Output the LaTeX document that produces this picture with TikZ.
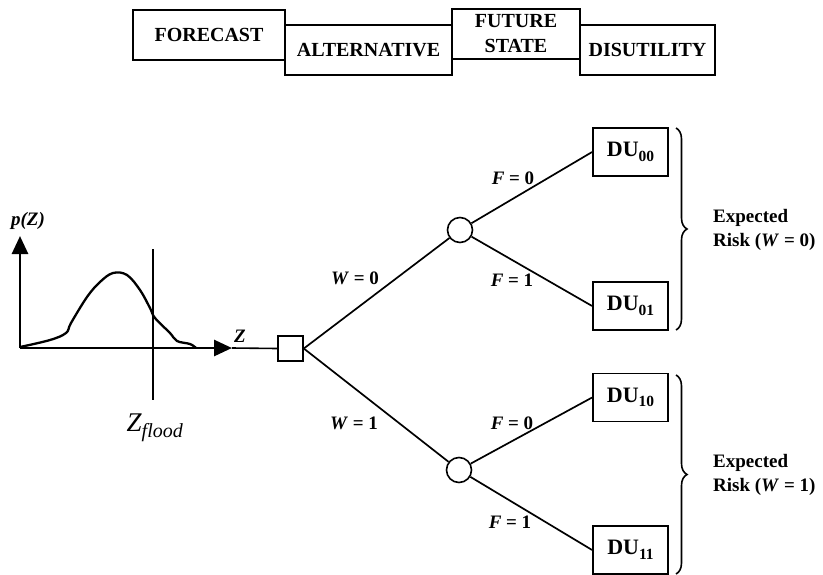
\documentclass[tikz,border=0pt]{standalone}
\usepackage{fontspec}
\setmainfont{Liberation Serif}
\usetikzlibrary{arrows.meta,decorations.pathreplacing}
\newcommand{\dusub}[1]{\raisebox{-4.5pt}{\fontsize{15.5}{16}\selectfont #1}}
\tikzset{
  topbox/.style={draw,line width=2pt,inner sep=0pt,font=\fontsize{20}{22}\selectfont\bfseries,align=center},
  dubox/.style={draw,line width=1.8pt,minimum width=75pt,minimum height=48pt,inner sep=0pt,font=\fontsize{22}{24}\selectfont\bfseries},
  chance/.style={draw,circle,line width=1.6pt,minimum size=25pt,inner sep=0pt},
  decision/.style={draw,rectangle,line width=1.6pt,minimum size=25pt,inner sep=0pt},
  branch/.style={line width=1.7pt},
  lbl/.style={font=\fontsize{19}{21}\selectfont\bfseries,inner sep=0pt},
  axis/.style={line width=2.8pt,-{Triangle[length=18pt,width=16pt]}},
  brace/.style={line width=1.6pt,decorate,decoration={brace,amplitude=11pt}},
  risk/.style={font=\fontsize{19}{24}\selectfont\bfseries,align=left,anchor=west,inner sep=0pt}
}
\begin{document}
\begin{tikzpicture}[x=1pt,y=-1pt]
\useasboundingbox (0,0) rectangle (823,574);
% top header boxes
\node[topbox,minimum width=152pt,minimum height=50pt] (fc) at (209,35) {FORECAST};
\node[topbox,minimum width=167pt,minimum height=50pt] (alt) at (368.5,50) {ALTERNATIVE};
\node[topbox,minimum width=128pt,minimum height=50pt] (fs) at (516,34) {FUTURE\\[3pt]STATE};
\node[topbox,minimum width=135pt,minimum height=50pt] (dis) at (647.5,50) {DISUTILITY};
% probability plot
\coordinate (o) at (20,348);
\coordinate (ytip) at (20,236);
\coordinate (xtip) at (232,348);
\draw[axis] (o) -- (ytip);
\draw[axis] (o) -- (xtip);
\coordinate (vtop) at (153,249);
\coordinate (vbot) at (153,400);
\draw[line width=1.5pt] (vtop) -- (vbot);
\draw[line width=2.3pt,line join=round] plot[smooth,tension=0.6] coordinates {(20,347) (50,340) (66,333) (71,323) (87,297) (100,282) (113,273) (127,275) (140,290) (150,308) (155,318) (170,333) (177,341) (190,344) (196,348)};
\node[lbl,font=\fontsize{19}{21}\selectfont\bfseries\itshape] (pz) at (28,221) {p(Z)};
\node[lbl,font=\fontsize{19}{21}\selectfont\bfseries\itshape] (zl) at (240,336) {Z};
\node[inner sep=0pt] (zf) at (155,428) {\fontsize{27}{29}\selectfont\itshape Z\textsubscript{\fontsize{20}{22}\selectfont flood}};
% decision tree
\node[decision] (sq) at (290.5,348.5) {};
\draw[line width=1.6pt] (xtip) -- (sq.west);
\node[chance] (c0) at (460,230) {};
\node[chance] (c1) at (459,470) {};
\node[dubox] (d00) at (630.5,152) {DU\dusub{00}};
\node[dubox] (d01) at (630.5,306) {DU\dusub{01}};
\node[dubox] (d10) at (630.5,397.5) {DU\dusub{10}};
\node[dubox] (d11) at (630.5,550) {DU\dusub{11}};
\draw[branch] (sq.east) -- (c0);
\draw[branch] (sq.east) -- (c1);
\draw[branch] (c0) -- (d00.west);
\draw[branch] (c0) -- (d01.west);
\draw[branch] (c1) -- (d10.west);
\draw[branch] (c1) -- (d11.west);
\node[lbl] (w0) at (355,278) {\textit{W} = 0};
\node[lbl] (w1) at (354,423) {\textit{W} = 1};
\node[lbl] (f00) at (513,178) {\textit{F} = 0};
\node[lbl] (f01) at (512,280) {\textit{F} = 1};
\node[lbl] (f10) at (512,423) {\textit{F} = 0};
\node[lbl] (f11) at (510,522) {\textit{F} = 1};
% braces
\coordinate (b0t) at (676,128);
\coordinate (b0b) at (676,330);
\coordinate (b1t) at (676,375);
\coordinate (b1b) at (676,574);
\draw[brace] (b0t) -- (b0b);
\draw[brace] (b1t) -- (b1b);
\node[risk] (r0) at (713,230) {Expected\\Risk (\textit{W} = 0)};
\node[risk] (r1) at (713,475) {Expected\\Risk (\textit{W} = 1)};
\end{tikzpicture}
\end{document}
